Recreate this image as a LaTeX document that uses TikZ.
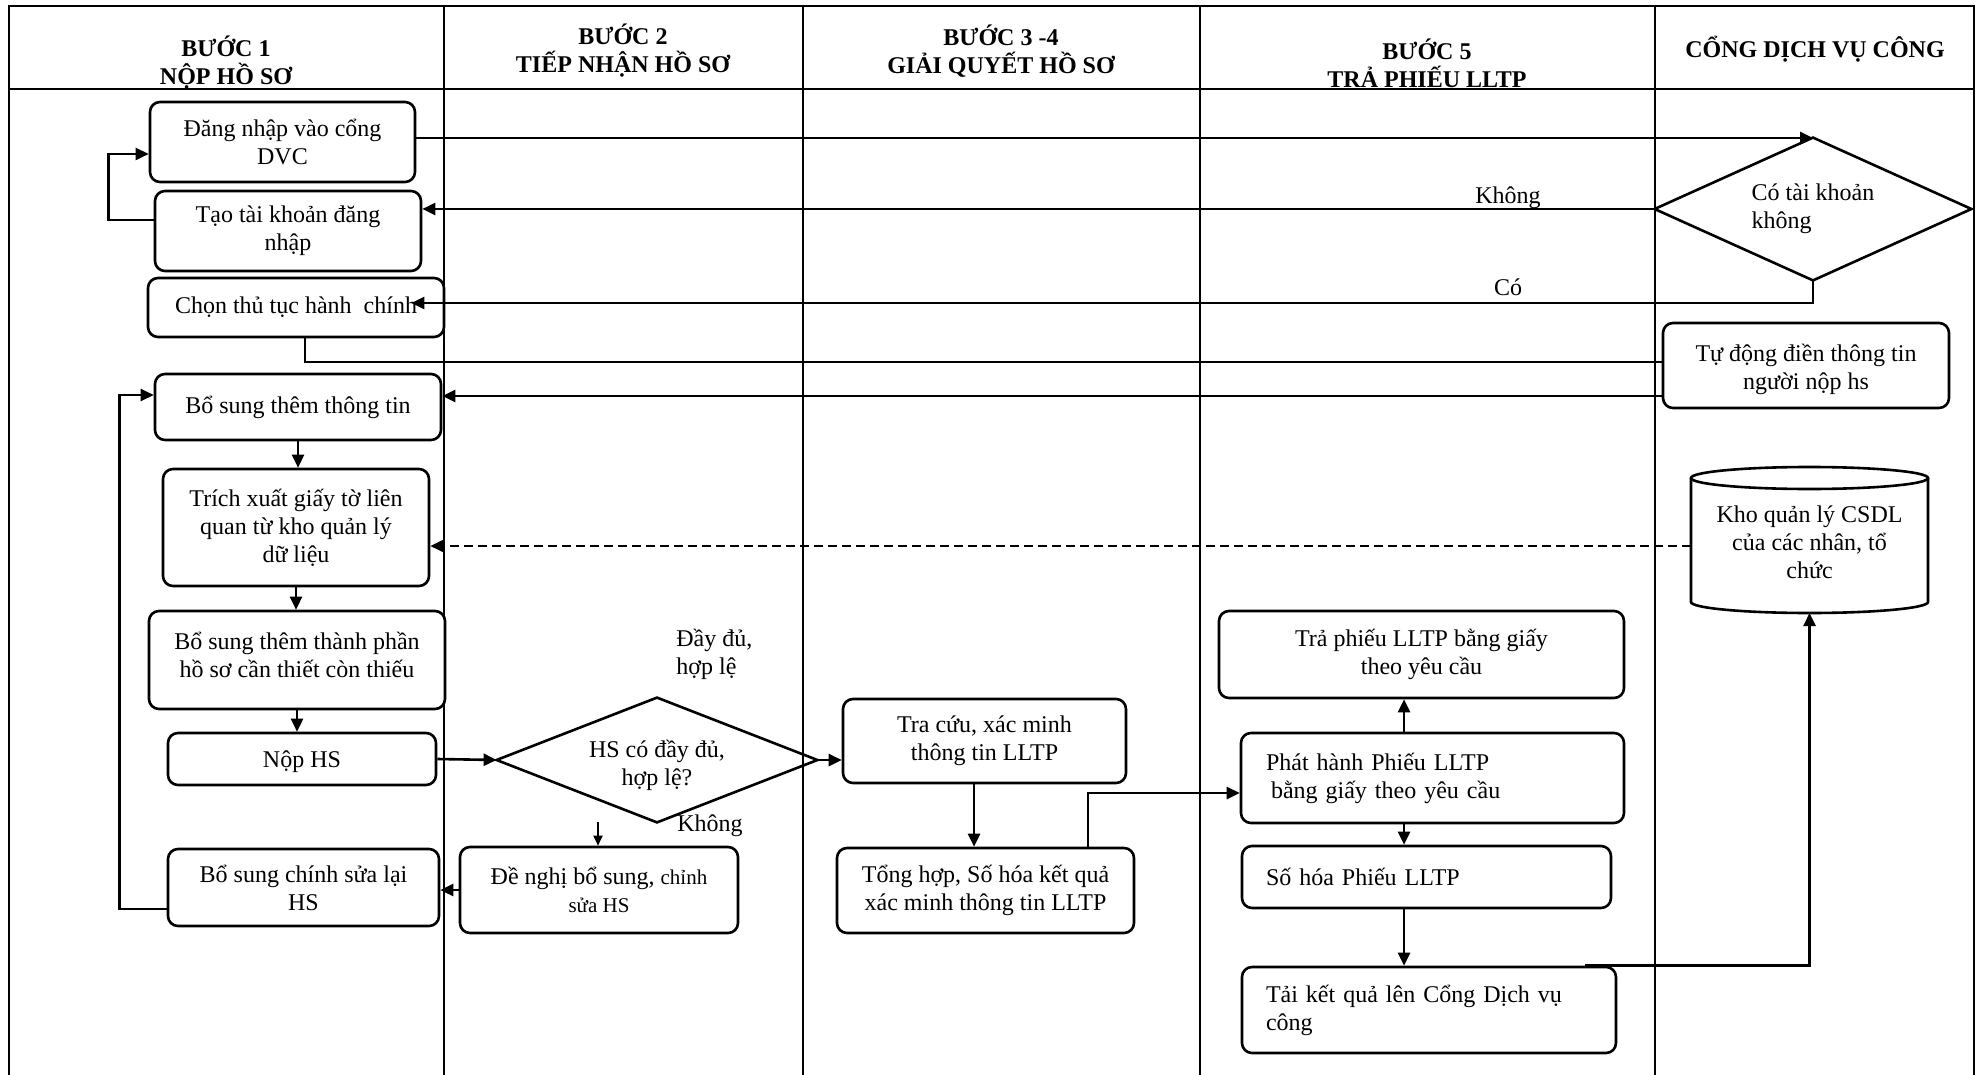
\documentclass[tikz,border=0pt]{standalone}
\usepackage{fontspec}
\setmainfont{Liberation Serif}
\usetikzlibrary{arrows.meta}
\begin{document}
\begin{tikzpicture}[x=0.5pt,y=-0.5pt,
  every node/.style={font=\fontsize{12}{14}\selectfont},
  grid/.style={line width=0.8pt},
  frame/.style={line width=1.3pt},
  box/.style={draw, fill=white, line width=1.3pt, rounded corners=5pt, align=center, inner sep=2pt},
  plain/.style={inner sep=0pt, align=center},
  flow/.style={line width=1.3pt, -{Triangle[length=6.5pt,width=6pt]}},
  thinflow/.style={line width=0.9pt, -{Triangle[length=5pt,width=4.5pt]}},
  link/.style={line width=1.3pt},
  hdr/.style={font=\fontsize{12}{14}\selectfont\bfseries, align=center},
  lbl/.style={inner sep=0pt}
]
\useasboundingbox (0,0) rectangle (1981,1075);

% swimlane frame
\foreach \x in {444,803,1200,1655} \draw[grid] (\x,6) -- (\x,1075);
\draw[frame] (9,1075) -- (9,6) -- (1974,6) -- (1974,1075);
\draw[frame] (9,89) -- (1974,89);

% lane headings
\node[hdr] (h1) at (226,63) {BƯỚC 1\\NỘP HỒ SƠ};
\node[hdr] (h2) at (623,51) {BƯỚC 2\\TIẾP NHẬN HỒ SƠ};
\node[hdr] (h3) at (1001,51) {BƯỚC 3 -4\\GIẢI QUYẾT HỒ SƠ};
\node[hdr] (h4) at (1427,63) {BƯỚC 5\\TRẢ PHIẾU LLTP};
\node[hdr] (h5) at (1815,49) {CỔNG DỊCH VỤ CÔNG};

% step 1: submission
\node[box, minimum width=132.5pt, minimum height=40pt] (B1) at (282.5,142) {Đăng nhập vào cổng\\DVC};
\node[box, minimum width=133pt, minimum height=40pt] (B2) at (288,231) {Tạo tài khoản đăng\\nhập};
\node[box, minimum width=148pt, minimum height=29.5pt] (B3) at (296,307.5) {Chọn thủ tục hành~ chính};
\node[box, minimum width=143pt, minimum height=33pt] (B4) at (298,407) {Bổ sung thêm thông tin};
\node[box, minimum width=133pt, minimum height=58.5pt] (B5) at (296,527.5) {Trích xuất giấy tờ liên\\quan từ kho quản lý\\dữ liệu};
\node[box, minimum width=148pt, minimum height=49pt] (B6) at (297,660) {};
\node[plain] (B6t) at (297,655) {Bổ sung thêm thành phần\\hồ sơ cần thiết còn thiếu};
\node[box, minimum width=134pt, minimum height=26pt] (B7) at (302,759) {};
\node[plain] (B7t) at (302,762) {Nộp HS};
\node[box, minimum width=135.5pt, minimum height=38.5pt] (B10) at (303.5,887.5) {Bổ sung chính sửa lại\\HS};

% step 2: reception
\node[plain, minimum width=160pt, minimum height=62pt] (D2) at (657,760) {};
\draw[link] (D2.north) -- (D2.east) -- (D2.south) -- (D2.west) -- cycle;
\node[plain] (D2t) at (657,765) {HS có đầy đủ,\\hợp lệ?};
\node[box, minimum width=139pt, minimum height=43pt] (B9) at (599,890)
  {Đề nghị bổ sung, {\fontsize{10.5}{14}\selectfont chỉnh}\\{\fontsize{10.5}{14}\selectfont sửa HS}};

% steps 3-4: processing
\node[box, minimum width=141.5pt, minimum height=42pt] (B8) at (984.5,741) {Tra cứu, xác minh\\thông tin LLTP};
\node[box, minimum width=148.5pt, minimum height=42.5pt] (B11) at (985.5,890.5) {Tổng hợp, Số hóa kết quả\\xác minh thông tin LLTP};

% step 5: result
\node[box, minimum width=202.5pt, minimum height=43.5pt] (B13) at (1421.5,654.5) {Trả phiếu LLTP bằng giấy\\theo yêu cầu};
\node[box, minimum width=191.5pt, minimum height=45pt, text width=166.5pt, inner xsep=12.5pt, align=left] (B12) at (1432.5,778)
  {Phát hành Phiếu LLTP\\\hspace*{2.5pt}bằng giấy theo yêu cầu};
\node[box, minimum width=184.5pt, minimum height=31pt, text width=160.5pt, inner xsep=12pt, align=left] (B14) at (1426.5,877) {Số hóa Phiếu LLTP};
\node[box, minimum width=187pt, minimum height=43pt, text width=163pt, inner xsep=12pt, align=left] (B15) at (1429,1010) {Tải kết quả lên Cổng Dịch vụ\\công};

% public service portal
\node[plain, minimum width=158pt, minimum height=71pt, align=left] (D1) at (1813,209) {Có tài khoản\\không};
\draw[link] (D1.north) -- (D1.east) -- (D1.south) -- (D1.west) -- cycle;
\node[box, minimum width=143pt, minimum height=42.5pt] (T) at (1806,365.5) {};
\node[plain] (Tt) at (1806,369.5) {Tự động điền thông tin\\người nộp hs};
\node[plain, minimum width=118.5pt, minimum height=73pt] (Cyl) at (1809.5,542) {Kho quản lý CSDL\\của các nhân, tổ\\chức};
\draw[link] (1691,478) -- (1691,602) arc[start angle=180, end angle=360, x radius=59.25pt, y radius=5.5pt] -- (1928,478);
\draw[link] (1809.5,478) ellipse [x radius=59.25pt, y radius=5.5pt];
\coordinate (CylW) at (1691,546);
\coordinate (CylS) at (1809.5,613);

% labels
\node[lbl] (lk1) at (1508,198) {Không};
\node[lbl] (lc) at (1508,287) {Có};
\node[lbl, anchor=west, align=left] (ldd) at (676,654) {Đầy đủ,\\hợp lệ};
\node[lbl, anchor=west] (lk2) at (677,826) {Không};

% connectors
\draw[flow] ([yshift=2pt]B1.east) -- ([yshift=2pt]B1.east -| D1.north);
\draw[flow] (D1.west) -- (D1.west -| B2.east);
\draw[flow] ([yshift=5.5pt]B2.west) -- ++(-22.5pt,0) |- ([yshift=-6pt]B1.west);
\draw[flow] (D1.south) |- ([xshift=-17pt,yshift=2.25pt]B3.east);
\draw[link] ([xshift=4.5pt]B3.south) |- ([yshift=1.75pt]T.west);
\draw[flow] ([yshift=-15.25pt]T.west) -- ([yshift=-15.25pt]T.west -| B4.east);
\draw[flow] (B4.south) -- (B4.south |- B5.north);
\draw[flow, dashed, dash pattern=on 4.5pt off 2.5pt] (CylW) -- (CylW -| B5.east);
\draw[flow] (B5.south) -- (B5.south |- B6.north);
\draw[flow] (B6.south) -- (B6.south |- B7.north);
\draw[flow] (B7.east) -- (D2.west);
\draw[flow] (D2.east) -- (D2.east -| B8.west);
\coordinate (k) at (598,822);
\draw[thinflow] (k) -- (k |- B9.north);
\draw[flow] (B9.west) -- (B9.west -| B10.east);
\draw[flow] ([yshift=-10.75pt]B10.west) -- ++(-23.5pt,0) |- ([yshift=6pt]B4.west);
\draw[flow] ([xshift=-5.25pt]B8.south) -- ([xshift=-5.25pt]B8.south |- B11.north);
\draw[flow] ([xshift=51.25pt]B11.north) |- ([yshift=-7.5pt]B12.west);
\draw[flow] ([xshift=-14.25pt]B12.north) -- ([xshift=-14.25pt]B12.north |- B13.south);
\draw[flow] ([xshift=-14.25pt]B12.south) -- ([xshift=-14.25pt]B12.south |- B14.north);
\draw[flow] ([xshift=-11.25pt]B14.south) -- ([xshift=-11.25pt]B14.south |- B15.north);
\draw[flow] ([xshift=78pt]B15.north) -| (CylS);
\end{tikzpicture}
\end{document}
